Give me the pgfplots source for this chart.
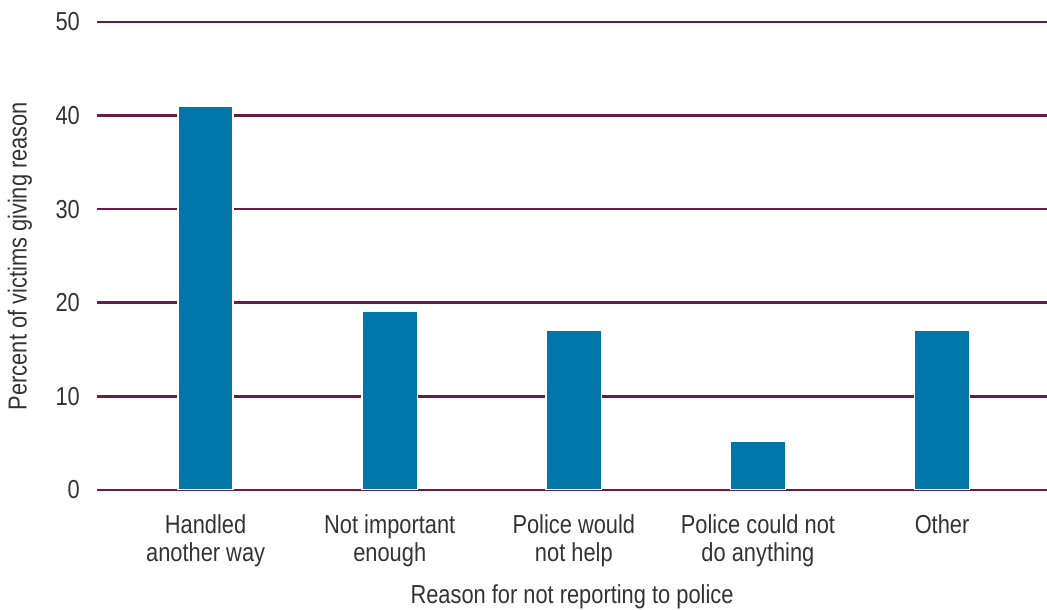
\documentclass[border=0pt]{standalone}
\usepackage{fontspec}
\setmainfont{Liberation Sans}[FakeStretch=0.84]
\usepackage{pgfplots}
\pgfplotsset{compat=1.18}
\definecolor{gridpurple}{RGB}{107,26,75}
\definecolor{barblue}{RGB}{0,119,168}
\definecolor{txt}{RGB}{51,51,51}
\begin{document}
\begin{tikzpicture}
\begin{axis}[
    scale only axis,
    width=950pt, height=468pt,
    xmin=-0.59, xmax=4.57,
    ymin=0, ymax=50,
    ytick={0,10,20,30,40,50},
    xtick={0,1,2,3,4},
    xticklabels={Handled\\another way, Not important\\enough, Police would\\not help, Police could not\\do anything, Other},
    axis line style={draw=none},
    major tick length=0pt,
    ymajorgrids,
    grid style={gridpurple, line width=2.6pt},
    /pgf/number format/assume math mode=true,
    every tick label/.append style={font=\fontsize{26}{28.5}\selectfont, text=txt},
    xticklabel style={anchor=north, align=center, inner sep=0pt, yshift=-24pt},
    yticklabel style={anchor=east, inner sep=0pt, xshift=-17pt},
    ylabel={Percent of victims giving reason},
    ylabel style={at={(axis description cs:0,0.5)}, anchor=center, yshift=77pt, font=\fontsize{26}{28.5}\selectfont, text=txt, inner sep=0pt},
    xlabel={Reason for not reporting to police},
    xlabel style={at={(axis description cs:0.5,0)}, anchor=base, yshift=-113pt, font=\fontsize{26}{28.5}\selectfont, text=txt, inner sep=0pt},
]
\addplot[ybar, bar width=0.3, fill=barblue, draw=white, line width=1.5pt]
    coordinates {(0,41) (1,19.1) (2,17.1) (3,5.2) (4,17.1)};
\end{axis}
\pgfresetboundingbox
\path (current axis.south west) ++(-97pt,-120pt) rectangle ([yshift=22pt]current axis.north east);
\end{tikzpicture}
\end{document}
